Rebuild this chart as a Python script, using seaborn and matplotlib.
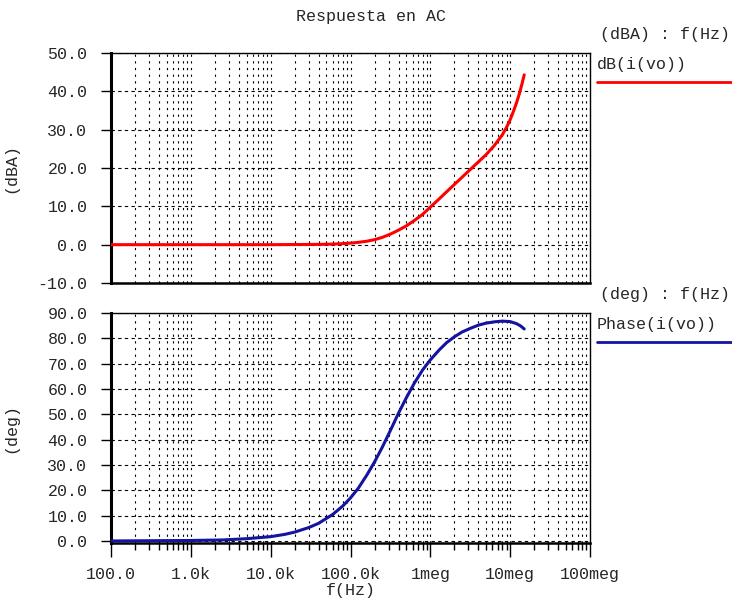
import matplotlib
matplotlib.use("Agg")
import matplotlib.pyplot as plt
import seaborn as sns
import pandas as pd
from matplotlib.ticker import FixedLocator, LogLocator, NullFormatter
from matplotlib.lines import Line2D

# ---- data ----
freq_db = [100, 1e3, 1e4, 3e4, 5e4, 7e4, 1e5, 1.25e5, 1.6e5, 2e5, 2.5e5, 3.2e5,
           4e5, 5e5, 6.3e5, 8e5, 1e6, 1.3e6, 1.6e6, 2e6, 2.5e6, 3.2e6, 4e6,
           5e6, 6.3e6, 8e6, 9e6, 1e7, 1.1e7, 1.2e7, 1.3e7, 1.4e7, 1.5e7]
db_vals = [0, 0, 0, 0.05, 0.1, 0.2, 0.4, 0.6, 0.9, 1.3, 1.9, 2.8,
           3.8, 4.9, 6.3, 7.9, 9.8, 12.0, 13.8, 15.7, 17.6, 19.7, 21.6,
           23.5, 25.8, 28.7, 30.6, 32.6, 34.8, 37.0, 39.3, 41.8, 44.3]

freq_ph = [100, 1e3, 2.5e3, 5e3, 1e4, 1.5e4, 2e4, 3e4, 4e4, 6e4, 8e4, 1e5,
           1.25e5, 1.6e5, 2e5, 2.5e5, 3.2e5, 4e5, 5e5, 6.3e5, 8e5, 1e6,
           1.3e6, 1.6e6, 2e6, 2.5e6, 3.2e6, 4e6, 5e6, 6.3e6, 8e6, 1e7,
           1.2e7, 1.35e7, 1.5e7]
ph_vals = [0.0, 0.2, 0.4, 0.9, 1.7, 2.6, 3.5, 5.3, 7.0, 10.5, 13.8, 17.0,
           20.8, 26.0, 31.2, 37.0, 44.0, 50.5, 56.5, 62.3, 67.5, 71.5,
           75.5, 78.3, 80.6, 82.5, 84.0, 85.2, 86.0, 86.5, 86.8, 86.6,
           85.8, 84.9, 83.7]

x_ticks = [1e2, 1e3, 1e4, 1e5, 1e6, 1e7, 1e8]
x_labels = ["100.0", "1.0k", "10.0k", "100.0k", "1meg", "10meg", "100meg"]
db_ticks = [-10, 0, 10, 20, 30, 40, 50]
ph_ticks = [0, 10, 20, 30, 40, 50, 60, 70, 80, 90]

sns.set_theme(style="white")
FONT = ["Liberation Mono", "DejaVu Sans Mono"]
plt.rcParams["font.family"] = FONT
plt.rcParams["font.size"] = 12

W, H = 732, 604
fig = plt.figure(figsize=(W / 100, H / 100), dpi=100)

def rect(l, t, r, b):
    return [l / W, 1 - b / H, (r - l) / W, (b - t) / H]

ax1 = fig.add_axes(rect(111, 53, 590, 283))
ax2 = fig.add_axes(rect(111, 313, 590, 543))

df_db = pd.DataFrame({"f": freq_db, "v": db_vals})
df_ph = pd.DataFrame({"f": freq_ph, "v": ph_vals})
sns.lineplot(data=df_db, x="f", y="v", ax=ax1, color="#ff0000", lw=2.2,
             estimator=None, sort=False, zorder=5)
sns.lineplot(data=df_ph, x="f", y="v", ax=ax2, color="#1414a0", lw=2.2,
             estimator=None, sort=False, zorder=5)

for ax, yt, ylim, lab in [(ax1, db_ticks, (-10, 50), "(dBA)"),
                          (ax2, ph_ticks, (-0.8, 90), "(deg)")]:
    ax.set_facecolor("white")
    ax.set_xscale("log")
    ax.set_xlim(1e2, 1e8)
    ax.set_ylim(*ylim)
    ax.xaxis.set_major_locator(FixedLocator(x_ticks))
    ax.xaxis.set_minor_locator(LogLocator(base=10, subs=range(2, 10), numticks=20))
    ax.xaxis.set_minor_formatter(NullFormatter())
    ax.set_yticks(yt)
    ax.set_yticklabels([f"{v:.1f}" for v in yt])
    ax.grid(False)
    ax.grid(True, which="both", axis="x", color="black", lw=0.8,
            linestyle=(0, (2, 4)))
    ax.grid(True, which="major", axis="y", color="black", lw=0.8,
            linestyle=(0, (3, 3)))
    for s in ax.spines.values():
        s.set_color("black")
        s.set_linewidth(1.0)
    ax.spines["left"].set_linewidth(2.2)
    ax.spines["bottom"].set_linewidth(1.8)
    ax.tick_params(axis="y", direction="out", length=7, width=1, color="black",
                   pad=10, labelsize=12, left=True)
    ax.set_ylabel(lab, fontsize=12)
    ax.yaxis.set_label_coords(-0.194, 0.5)
    ax.set_xlabel("")

ax1.tick_params(axis="x", which="both", length=0, labelbottom=False)
ax2.set_xticklabels(x_labels)
ax2.tick_params(axis="x", which="major", direction="out", length=10, width=1,
                color="black", pad=7, labelsize=12, bottom=True)
ax2.tick_params(axis="x", which="minor", direction="out", length=5, width=1,
                color="black", bottom=True)
ax2.set_xlabel("f(Hz)", fontsize=12)
ax2.xaxis.set_label_coords(0.5, -0.172)

fig.text(371 / W, 1 - 17 / H, "Respuesta en AC", ha="center", va="center", fontsize=12)

# legends on the right
fig.text(600 / W, 1 - 35 / H, "(dBA) : f(Hz)", ha="left", va="center", fontsize=12)
fig.text(597 / W, 1 - 65 / H, "dB(i(vo))", ha="left", va="center", fontsize=12)
fig.add_artist(Line2D([597 / W, 1.0], [1 - 82 / H] * 2, color="#ff0000", lw=2.0,
                      transform=fig.transFigure))
fig.text(600 / W, 1 - 295 / H, "(deg) : f(Hz)", ha="left", va="center", fontsize=12)
fig.text(597 / W, 1 - 325 / H, "Phase(i(vo))", ha="left", va="center", fontsize=12)
fig.add_artist(Line2D([597 / W, 1.0], [1 - 342 / H] * 2, color="#1414a0", lw=2.0,
                      transform=fig.transFigure))

fig.savefig("out.png", dpi=100, facecolor="white")
